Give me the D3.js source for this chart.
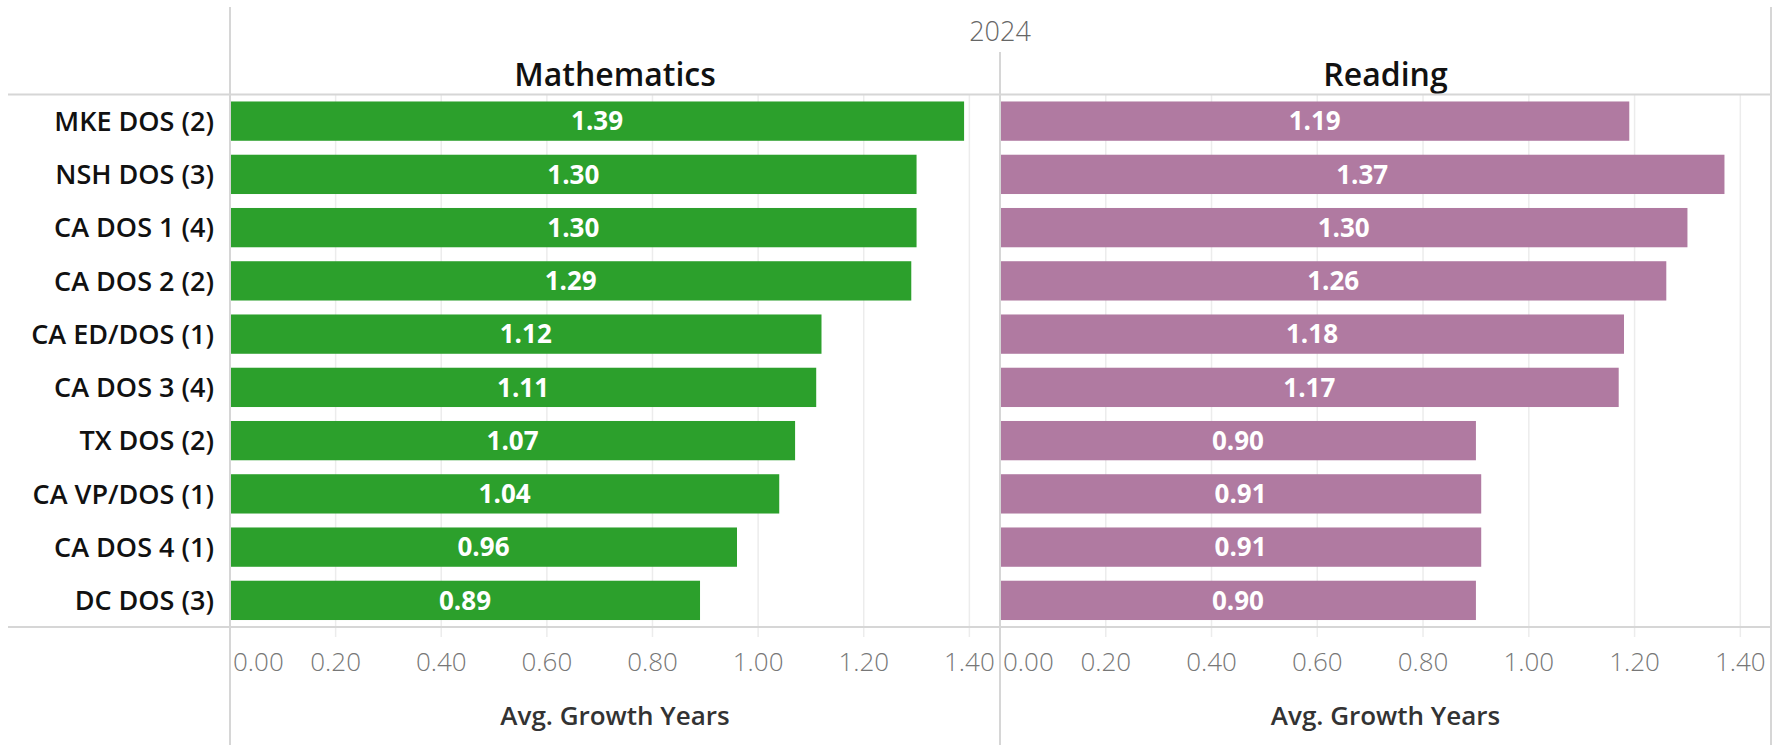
<!DOCTYPE html>
<html>
<head>
<meta charset="utf-8">
<script src="https://cdn.jsdelivr.net/npm/d3@7"></script>
<style>
  html, body { margin: 0; padding: 0; background: #fff; }
  svg { display: block; font-family: "Open Sans", "Noto Sans", sans-serif; }
</style>
</head>
<body>
<svg id="chart" width="1781" height="745"></svg>
<script>
// Average growth years by group, 2024
const categories = ["MKE DOS (2)", "NSH DOS (3)", "CA DOS 1 (4)", "CA DOS 2 (2)", "CA ED/DOS (1)",
                    "CA DOS 3 (4)", "TX DOS (2)", "CA VP/DOS (1)", "CA DOS 4 (1)", "DC DOS (3)"];
const mathValues    = [1.39, 1.30, 1.30, 1.29, 1.12, 1.11, 1.07, 1.04, 0.96, 0.89];
const readingValues = [1.19, 1.37, 1.30, 1.26, 1.18, 1.17, 0.90, 0.91, 0.91, 0.90];
const subjects = ["Mathematics", "Reading"];
const subjectColors = ["#2ca02c", "#b07aa1"];
const tickValues = [0, 0.2, 0.4, 0.6, 0.8, 1.0, 1.2, 1.4];
const yearLabel = "2024";
const axisTitle = "Avg. Growth Years";

const svg = d3.select("#chart");
const W = 1781, H = 745;
const rowLabelRight = 214;
const panelEdges = [230, 1000, 1771];
const plotTop = 94.5, plotBottom = 627;
const lineColor = "#d6d6d6", gridColor = "#ececec";

const y = d3.scaleBand().domain(categories).range([plotTop, plotBottom])
  .paddingInner(0.262).paddingOuter(0.131);

const fmt = d3.format(".2f");
const series = [mathValues, readingValues];

// panels
subjects.forEach((subj, i) => {
  const x0 = panelEdges[i], x1 = panelEdges[i + 1];
  const x = d3.scaleLinear().domain([0, 1.458]).range([x0, x1]);
  const g = svg.append("g");

  // gridlines with short ticks below the plot
  g.selectAll("line.grid").data(tickValues.filter(t => t > 0)).join("line")
    .attr("x1", d => x(d)).attr("x2", d => x(d))
    .attr("y1", plotTop).attr("y2", plotBottom + 10)
    .attr("stroke", gridColor).attr("stroke-width", 1.5);

  // bars
  const vals = series[i];
  g.selectAll("rect").data(categories).join("rect")
    .attr("x", x(0))
    .attr("y", d => y(d))
    .attr("width", (d, k) => x(vals[k]) - x(0))
    .attr("height", y.bandwidth())
    .attr("fill", subjectColors[i]);

  // value labels
  g.selectAll("text.val").data(categories).join("text")
    .attr("class", "val")
    .attr("x", (d, k) => (x(0) + x(vals[k])) / 2)
    .attr("y", d => y(d) + y.bandwidth() / 2)
    .attr("dy", "0.36em")
    .attr("text-anchor", "middle")
    .attr("fill", "#fff")
    .attr("font-size", 26)
    .attr("font-weight", 700)
    .text((d, k) => fmt(vals[k]));

  // subject header
  g.append("text")
    .attr("x", (x0 + x1) / 2).attr("y", 86)
    .attr("text-anchor", "middle")
    .attr("font-size", 32).attr("font-weight", 600).attr("fill", "#111")
    .text(subj);

  // tick labels, kept inside the panel
  g.selectAll("text.tick").data(tickValues).join("text")
    .attr("class", "tick")
    .attr("y", 671)
    .attr("font-size", 26).attr("font-weight", 300).attr("fill", "#777")
    .text(d => fmt(d))
    .each(function (d) {
      const w = this.getComputedTextLength();
      let left = x(d) - w / 2;
      left = Math.max(x0 + 3, Math.min(left, x1 - 4 - w));
      d3.select(this).attr("x", left);
    });

  // axis title
  g.append("text")
    .attr("x", (x0 + x1) / 2).attr("y", 725)
    .attr("text-anchor", "middle")
    .attr("font-size", 26).attr("font-weight", 600).attr("fill", "#333")
    .text(axisTitle);
});

// row labels
svg.append("g").selectAll("text").data(categories).join("text")
  .attr("x", rowLabelRight)
  .attr("y", d => y(d) + y.bandwidth() / 2)
  .attr("dy", "0.36em")
  .attr("text-anchor", "end")
  .attr("font-size", 27).attr("font-weight", 600).attr("fill", "#111")
  .text(d => d);

// year header
svg.append("text")
  .attr("x", panelEdges[1]).attr("y", 40.5)
  .attr("text-anchor", "middle")
  .attr("font-size", 27).attr("font-weight", 300).attr("fill", "#666")
  .text(yearLabel);

// table borders
const borders = svg.append("g").attr("stroke", lineColor).attr("stroke-width", 2);
borders.append("line").attr("x1", 8).attr("x2", panelEdges[2]).attr("y1", plotTop).attr("y2", plotTop);
borders.append("line").attr("x1", 8).attr("x2", panelEdges[2]).attr("y1", plotBottom).attr("y2", plotBottom);
borders.append("line").attr("x1", panelEdges[0]).attr("x2", panelEdges[0]).attr("y1", 7).attr("y2", H);
borders.append("line").attr("x1", panelEdges[1]).attr("x2", panelEdges[1]).attr("y1", 52).attr("y2", H);
borders.append("line").attr("x1", panelEdges[2]).attr("x2", panelEdges[2]).attr("y1", 7).attr("y2", H);
</script>
</body>
</html>
